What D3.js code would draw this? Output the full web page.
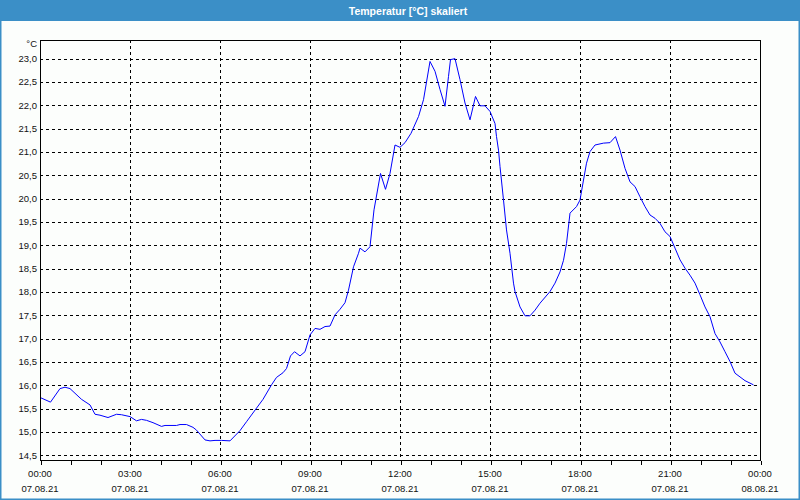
<!DOCTYPE html>
<html>
<head>
<meta charset="utf-8">
<script src="https://cdn.jsdelivr.net/npm/d3@7"></script>
<style>
  body { margin: 0; background: #fcfefc; }
  svg { display: block; }
  text { font-family: "Liberation Sans", Arial, sans-serif; }
</style>
</head>
<body>
<div id="chart"></div>
<script>
// Temperature readings, 07.08.21 (times as HH:MM, values in °C)
const times = [
    "00:00", "00:21", "00:40", "00:50", "01:00", "01:23", "01:40", "01:50", "02:00", "02:16",
    "02:33", "02:43", "03:00", "03:13", "03:23", "03:33", "03:46", "04:03", "04:10", "04:33",
    "04:40", "04:53", "05:06", "05:13", "05:30", "05:40", "05:50", "06:03", "06:20", "06:40",
    "06:53", "07:26", "07:43", "07:53", "08:06", "08:13", "08:21", "08:29", "08:40", "08:50",
    "09:00", "09:10", "09:20", "09:30", "09:40", "09:50", "10:00", "10:10", "10:17", "10:27",
    "10:37", "10:40", "10:50", "11:00", "11:08", "11:21", "11:31", "11:40", "11:50", "12:00",
    "12:10", "12:22", "12:37", "12:47", "13:00", "13:10", "13:20", "13:30", "13:37", "13:41",
    "13:50", "14:00", "14:10", "14:20", "14:31", "14:40", "14:50", "15:00", "15:10", "15:13",
    "15:17", "15:20", "15:27", "15:33", "15:40", "15:47", "15:50", "16:00", "16:10", "16:20",
    "16:30", "16:40", "17:00", "17:10", "17:20", "17:27", "17:33", "17:40", "17:53", "18:00",
    "18:07", "18:13", "18:20", "18:30", "18:47", "19:00", "19:11", "19:20", "19:30", "19:40",
    "19:50", "20:00", "20:10", "20:20", "20:30", "20:40", "20:50", "21:00", "21:10", "21:20",
    "21:30", "21:40", "21:50", "22:00", "22:10", "22:20", "22:30", "22:40", "22:50", "23:00",
    "23:10", "23:20", "23:30", "23:47"
];
const temps = [
    15.74, 15.64, 15.93, 15.96, 15.93, 15.70, 15.58, 15.38, 15.36, 15.31,
    15.38, 15.37, 15.33, 15.24, 15.27, 15.25, 15.20, 15.12, 15.14, 15.14,
    15.16, 15.16, 15.10, 15.04, 14.83, 14.81, 14.82, 14.82, 14.81, 15.03,
    15.22, 15.70, 16.01, 16.17, 16.27, 16.36, 16.63, 16.72, 16.63, 16.72,
    17.08, 17.22, 17.20, 17.26, 17.27, 17.51, 17.63, 17.77, 18.04, 18.54,
    18.83, 18.94, 18.86, 18.97, 19.76, 20.54, 20.20, 20.54, 21.15, 21.10,
    21.20, 21.40, 21.76, 22.12, 22.94, 22.73, 22.34, 21.98, 22.62, 22.98,
    23.00, 22.55, 22.05, 21.69, 22.19, 21.99, 21.99, 21.87, 21.61, 21.33,
    21.04, 20.69, 19.97, 19.33, 18.83, 18.19, 18.01, 17.68, 17.49, 17.49,
    17.61, 17.76, 18.01, 18.19, 18.43, 18.68, 19.04, 19.69, 19.83, 19.97,
    20.40, 20.76, 21.01, 21.15, 21.19, 21.20, 21.33, 21.04, 20.65, 20.36,
    20.26, 20.04, 19.83, 19.65, 19.58, 19.47, 19.29, 19.19, 18.94, 18.69,
    18.51, 18.36, 18.19, 17.94, 17.68, 17.47, 17.11, 16.93, 16.72, 16.51,
    16.26, 16.18, 16.10, 16.01
];
const yTicks = [14.5, 15, 15.5, 16, 16.5, 17, 17.5, 18, 18.5, 19, 19.5, 20, 20.5, 21, 21.5, 22, 22.5, 23];
const yDomain = [14.4, 23.4];
const title = "Temperatur [°C] skaliert";
const unit = "°C";
const day = "2021-08-07";

const W = 800, H = 500;
const margin = { top: 40, right: 40, bottom: 40, left: 40 };
const blue = "#3b8fc7";

const parse = d3.timeParse("%Y-%m-%d %H:%M");
const data = times.map((t, i) => ({ t: parse(day + " " + t), v: temps[i] }));

const start = parse(day + " 00:00");
const end = d3.timeDay.offset(start, 1);

const svg = d3.select("#chart").append("svg")
    .attr("width", W)
    .attr("height", H);

// window frame + title bar
svg.append("rect")
    .attr("x", 0.5).attr("y", 0.5)
    .attr("width", W - 1).attr("height", H - 1)
    .attr("fill", "#fcfefc")
    .attr("stroke", blue)
    .attr("stroke-width", 2);

svg.append("rect")
    .attr("x", 0).attr("y", 0)
    .attr("width", W).attr("height", 21)
    .attr("fill", blue);

svg.append("text")
    .attr("x", W / 2 + 8)
    .attr("y", 11)
    .attr("dy", "0.35em")
    .attr("text-anchor", "middle")
    .attr("fill", "#fff")
    .attr("font-size", "10.5px")
    .attr("font-weight", "bold")
    .text(title);

const x = d3.scaleTime()
    .domain([start, end])
    .range([margin.left, W - margin.right]);

const y = d3.scaleLinear()
    .domain(yDomain)
    .range([H - margin.bottom, margin.top]);

const g = svg.append("g");

// horizontal grid
g.selectAll("line.hgrid")
    .data(yTicks)
    .enter().append("line")
    .attr("class", "hgrid")
    .attr("x1", margin.left)
    .attr("x2", W - margin.right)
    .attr("y1", d => Math.round(y(d)) + 0.5)
    .attr("y2", d => Math.round(y(d)) + 0.5)
    .attr("stroke", "#000")
    .attr("stroke-dasharray", "3,3")
    .attr("shape-rendering", "crispEdges");

// vertical grid every 3 hours
const majorTicks = d3.timeHour.every(3).range(start, d3.timeHour.offset(end, 1));
g.selectAll("line.vgrid")
    .data(majorTicks.filter(d => d > start && d < end))
    .enter().append("line")
    .attr("class", "vgrid")
    .attr("x1", d => Math.round(x(d)) + 0.5)
    .attr("x2", d => Math.round(x(d)) + 0.5)
    .attr("y1", margin.top)
    .attr("y2", H - margin.bottom)
    .attr("stroke", "#000")
    .attr("stroke-dasharray", "3,3")
    .attr("shape-rendering", "crispEdges");

// temperature line
const line = d3.line()
    .x(d => x(d.t))
    .y(d => y(d.v));

g.append("path")
    .datum(data)
    .attr("d", line)
    .attr("fill", "none")
    .attr("stroke", "#0000ff")
    .attr("stroke-width", 1);

// plot frame
svg.append("rect")
    .attr("x", margin.left + 0.5)
    .attr("y", margin.top + 0.5)
    .attr("width", W - margin.left - margin.right)
    .attr("height", H - margin.top - margin.bottom)
    .attr("fill", "none")
    .attr("stroke", "#000")
    .attr("shape-rendering", "crispEdges");

// x axis with hourly minor ticks
const xAxis = d3.axisBottom(x)
    .ticks(d3.timeHour.every(1))
    .tickSize(4)
    .tickFormat("");

svg.append("g")
    .attr("transform", `translate(0.5,${H - margin.bottom + 0.5})`)
    .call(xAxis)
    .call(a => a.select(".domain").remove())
    .call(a => a.selectAll("line").attr("stroke", "#000").attr("shape-rendering", "crispEdges"));

const fmtTime = d3.timeFormat("%H:%M");
const fmtDate = d3.timeFormat("%d.%m.%y");

const xl = svg.append("g").attr("font-size", "9.5px").attr("fill", "#111");
xl.selectAll("text.xt")
    .data(majorTicks)
    .enter().append("text")
    .attr("class", "xt")
    .attr("x", d => x(d))
    .attr("y", H - margin.bottom + 14)
    .attr("dy", "0.35em")
    .attr("text-anchor", "middle")
    .text(fmtTime);
xl.selectAll("text.xd")
    .data(majorTicks)
    .enter().append("text")
    .attr("class", "xd")
    .attr("x", d => x(d))
    .attr("y", H - margin.bottom + 29)
    .attr("dy", "0.35em")
    .attr("text-anchor", "middle")
    .text(fmtDate);

// y labels
const fmtY = v => d3.format(".1f")(v).replace(".", ",");
const yl = svg.append("g").attr("font-size", "9.5px").attr("fill", "#111");
yl.selectAll("text")
    .data(yTicks)
    .enter().append("text")
    .attr("x", margin.left - 3)
    .attr("y", d => y(d))
    .attr("dy", "0.35em")
    .attr("text-anchor", "end")
    .text(fmtY);

yl.append("text")
    .attr("x", margin.left - 3)
    .attr("y", margin.top + 4)
    .attr("dy", "0.35em")
    .attr("text-anchor", "end")
    .text(unit);
</script>
</body>
</html>
